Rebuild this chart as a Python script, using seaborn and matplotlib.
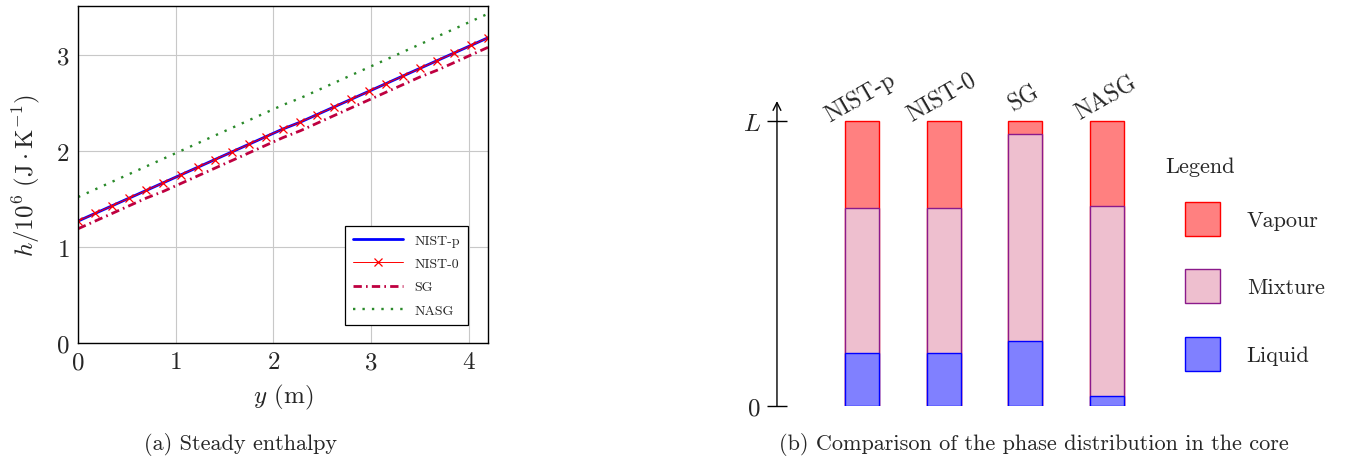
import numpy as np
import pandas as pd
import matplotlib
matplotlib.use("Agg")
import matplotlib.pyplot as plt
from matplotlib.patches import Patch
import seaborn as sns

# --- data (a): steady enthalpy along the core ---
y_pos = [0.0, 0.175, 0.35, 0.525, 0.7, 0.875, 1.05, 1.225, 1.4, 1.575, 1.75, 1.925, 2.1,
         2.275, 2.45, 2.625, 2.8, 2.975, 3.15, 3.325, 3.5, 3.675, 3.85, 4.025, 4.2]
h_nist = [1.27, 1.35, 1.43, 1.51, 1.59, 1.67, 1.75, 1.83, 1.91, 1.99, 2.07, 2.15, 2.23,
          2.30, 2.38, 2.46, 2.54, 2.62, 2.70, 2.78, 2.86, 2.94, 3.02, 3.10, 3.18]
h_nist0 = [1.27, 1.35, 1.43, 1.51, 1.59, 1.67, 1.75, 1.83, 1.91, 1.99, 2.07, 2.15, 2.23,
           2.30, 2.38, 2.46, 2.54, 2.62, 2.70, 2.78, 2.86, 2.94, 3.02, 3.10, 3.18]
h_sg = [1.19, 1.27, 1.35, 1.43, 1.51, 1.58, 1.66, 1.74, 1.82, 1.90, 1.98, 2.06, 2.14,
        2.21, 2.29, 2.37, 2.45, 2.53, 2.61, 2.69, 2.77, 2.84, 2.92, 3.00, 3.08]
h_nasg = [1.52, 1.60, 1.68, 1.76, 1.84, 1.92, 2.00, 2.08, 2.16, 2.24, 2.32, 2.40, 2.48,
          2.55, 2.63, 2.71, 2.79, 2.87, 2.95, 3.03, 3.11, 3.19, 3.27, 3.35, 3.43]

# --- data (b): phase distribution (fraction of core length L) ---
models = ['NIST-p', 'NIST-0', 'SG', 'NASG']
liquid_top = [0.186, 0.185, 0.228, 0.036]
mixture_top = [0.695, 0.694, 0.953, 0.703]
vapour_top = [1.0, 1.0, 1.0, 1.0]

sns.set_style('white')
plt.rcParams['font.family'] = ['cmr10', 'DejaVu Serif']
plt.rcParams['mathtext.fontset'] = 'cm'
plt.rcParams['axes.formatter.use_mathtext'] = True

fig = plt.figure(figsize=(13.6, 4.64), dpi=100)

# ---------------- (a) ----------------
ax = fig.add_axes([0.0574, 0.2586, 0.3015, 0.7263])
sns.lineplot(x=y_pos, y=h_nist, ax=ax, color='#0000ff', lw=2.0, label='NIST-p')
sns.lineplot(x=y_pos, y=h_nist0, ax=ax, color='#ff0000', lw=0.7, marker='x',
             markersize=6, markeredgewidth=0.9, markeredgecolor='#ff0000',
             label='NIST-0')
sns.lineplot(x=y_pos, y=h_sg, ax=ax, color='#bf0040', lw=2.0,
             dashes=(3, 1.5, 0.6, 1.5), label='SG')
sns.lineplot(x=y_pos, y=h_nasg, ax=ax, color='#2a8a2a', lw=1.7,
             linestyle=(0, (1, 3)), label='NASG')

ax.set_xlim(0, 4.2)
ax.set_ylim(0, 3.51)
ax.set_xticks([0, 1, 2, 3, 4])
ax.set_yticks([0, 1, 2, 3])
ax.grid(True, color='#c8c8c8', lw=0.8)
for s in ax.spines.values():
    s.set_color('black')
    s.set_linewidth(1.0)
ax.tick_params(labelsize=18, length=0, pad=6)
ax.set_xlabel('$y$ (m)', fontsize=18, labelpad=6)
ax.set_ylabel(r'$h/10^6\ (\mathrm{J}\cdot\mathrm{K}^{-1})$', fontsize=18, labelpad=10)
leg = ax.legend(loc='lower right', bbox_to_anchor=(0.968, 0.033), fontsize=10,
                frameon=True, fancybox=False, edgecolor='black', framealpha=1,
                handlelength=3.6, labelspacing=0.75, borderpad=0.6)
leg.get_frame().set_linewidth(0.9)

fig.text(240 / 1360, 1 - 445 / 464, '(a) Steady enthalpy', fontsize=16,
         ha='center', va='center')

# ---------------- (b) ----------------
bx = fig.add_axes([0.5713, 0.1228, 0.2728, 0.6573])
bw = 0.416
sns.barplot(x=models, y=vapour_top, ax=bx, color='#ff8080', edgecolor='#ff0000',
            linewidth=1.0, width=bw, saturation=1)
sns.barplot(x=models, y=mixture_top, ax=bx, color='#eebfcf', edgecolor='#8b1a8b',
            linewidth=1.0, width=bw, saturation=1)
sns.barplot(x=models, y=liquid_top, ax=bx, color='#8080ff', edgecolor='#0000ff',
            linewidth=1.0, width=bw, saturation=1)

bx.set_xlim(-1.04, 3.5)
bx.set_ylim(0, 1.07)
for s in bx.spines.values():
    s.set_visible(False)
bx.set_xticks([])
bx.set_xlabel('')
bx.set_ylabel('')
bx.set_yticks([0, 1])
bx.set_yticklabels(['0', '$L$'])
bx.tick_params(axis='y', left=True, labelleft=True, labelsize=18, direction='inout',
               length=15, width=1.0, color='black', pad=4)
bx.annotate('', xy=(-1.04, 1.07), xytext=(-1.04, 0), xycoords='data',
            arrowprops=dict(arrowstyle='->', lw=1.0, color='black',
                            shrinkA=0, shrinkB=0, mutation_scale=14),
            annotation_clip=False)
for i, name in enumerate(models):
    bx.annotate(name, xy=(i, 1.0), xytext=(-1, 17), textcoords='offset points',
                rotation=30, ha='center', va='center', fontsize=17,
                annotation_clip=False)

handles = [Patch(facecolor='#ff8080', edgecolor='#ff0000', label='Vapour'),
           Patch(facecolor='#eebfcf', edgecolor='#8b1a8b', label='Mixture'),
           Patch(facecolor='#8080ff', edgecolor='#0000ff', label='Liquid')]
fig.text(1165 / 1360, 1 - 167 / 464, 'Legend', fontsize=16, ha='left', va='center')
fig.legend(handles=handles, loc='upper left', bbox_to_anchor=(1185 / 1360, 1 - 203 / 464),
           frameon=False, fontsize=16, handlelength=1.58, handleheight=1.98,
           labelspacing=1.5, handletextpad=1.2, borderpad=0, borderaxespad=0)

fig.text(1034 / 1360, 1 - 445 / 464, '(b) Comparison of the phase distribution in the core',
         fontsize=16, ha='center', va='center')

fig.savefig('out.png', dpi=100)
